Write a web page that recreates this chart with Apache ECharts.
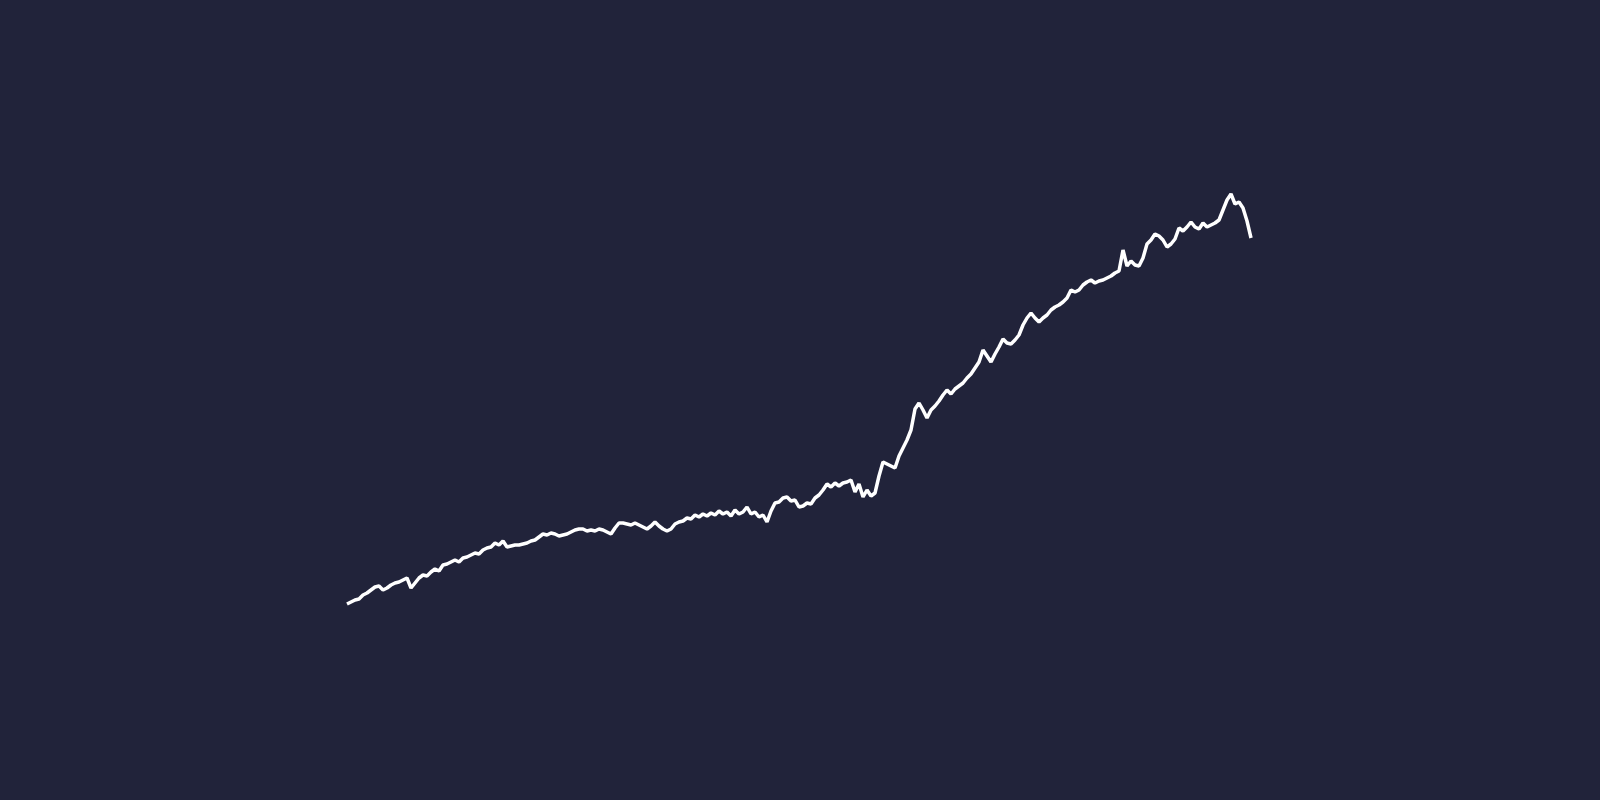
<!DOCTYPE html>
<html>
<head>
<meta charset="utf-8">
<script src="https://cdn.jsdelivr.net/npm/echarts@6/dist/echarts.min.js"></script>
<style>
html,body{margin:0;padding:0;background:#21233a;}
#chart{width:1600px;height:800px;}
</style>
</head>
<body>
<div id="chart"></div>
<script>
const values = [
196,198,200,201,205,207,210,213,214,210,212,215,217,218,220,222,212,217,222,225,
224,228,231,229,235,236,238,240,238,242,243,245,247,246,250,252,253,257,255,259,
253,254,255,255,256,257,259,260,263,266,265,267,266,264,265,266,268,270,271,271,
269,270,269,271,270,268,266,272,277,277,276,275,277,275,273,271,274,278,274,271,
269,271,276,278,279,282,281,285,283,286,284,287,285,289,286,288,284,290,286,288,
293,286,288,283,285,278,289,297,298,302,303,299,300,293,294,297,296,302,305,310,
316,313,317,314,317,318,320,308,316,303,310,304,307,324,338,336,334,332,344,352,
360,370,391,397,390,382,390,394,399,405,410,406,411,414,417,422,426,432,438,450,
444,438,446,453,461,457,456,460,465,475,482,487,482,478,482,485,490,493,495,498,
502,510,508,510,515,518,520,517,519,520,522,524,527,529,550,534,539,535,534,542,
556,560,566,564,560,553,556,561,572,569,573,578,573,571,577,573,575,577,580,590,
600,606,596,598,592,579,562
];
const categories = values.map((v, i) => String(i + 1));
const yMin = 0;
const yMax = 800;

const chart = echarts.init(document.getElementById('chart'));
chart.setOption({
  backgroundColor: '#21233a',
  animation: false,
  grid: { left: 347, right: 349, top: 0, bottom: 0 },
  xAxis: {
    type: 'category',
    data: categories,
    boundaryGap: false,
    show: false
  },
  yAxis: {
    type: 'value',
    min: yMin,
    max: yMax,
    show: false
  },
  series: [{
    type: 'line',
    data: values,
    showSymbol: false,
    symbol: 'none',
    lineStyle: { color: '#ffffff', width: 3.5 },
    itemStyle: { color: '#ffffff' }
  }]
});
</script>
</body>
</html>
